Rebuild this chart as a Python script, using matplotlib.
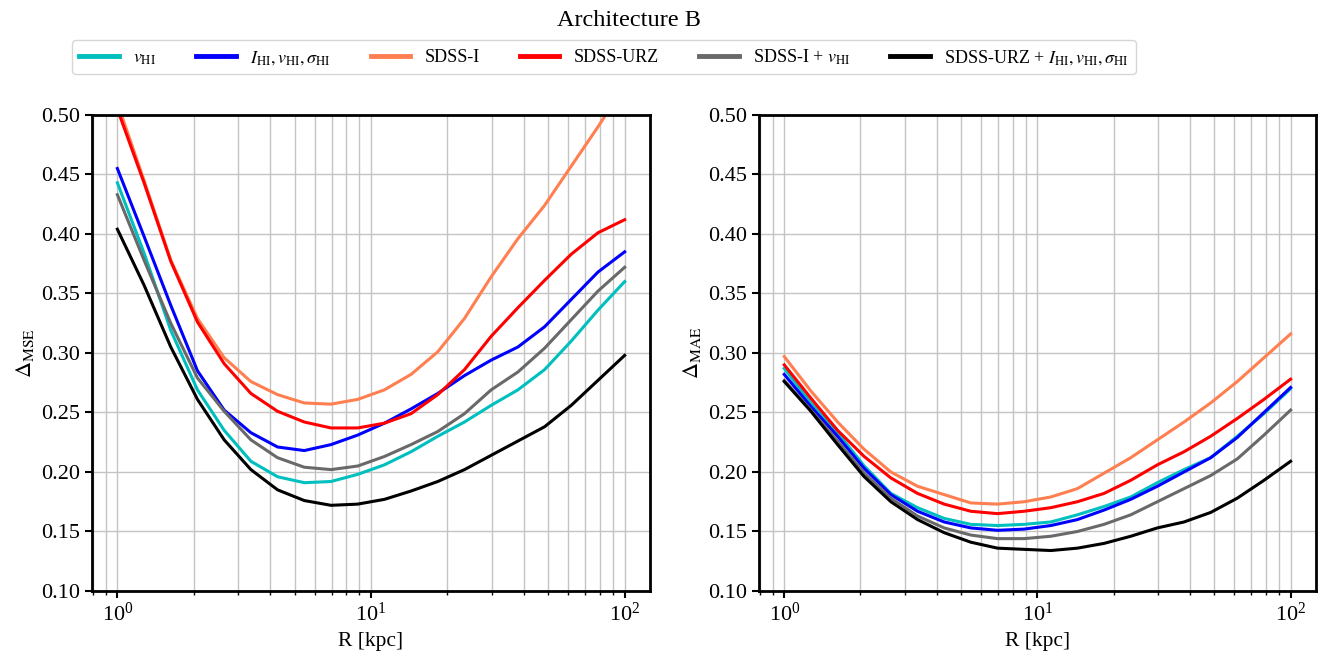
import numpy as np
import matplotlib
matplotlib.use('Agg')
import matplotlib.pyplot as plt

plt.rcParams['font.family'] = 'serif'
plt.rcParams['font.serif'] = ['Liberation Serif', 'DejaVu Serif']
plt.rcParams['mathtext.fontset'] = 'stix'

# radius grid [kpc], 20 log-spaced points between 1 and 100
R = [1.0, 1.274, 1.624, 2.069, 2.637, 3.360, 4.281, 5.456, 6.952, 8.859,
     11.29, 14.38, 18.33, 23.36, 29.76, 37.93, 48.33, 61.58, 78.48, 100.0]

labels = [r'$v_{\rm HI}$', r'$I_{\rm HI}, v_{\rm HI}, \sigma_{\rm HI}$', 'SDSS-I',
          'SDSS-URZ', r'SDSS-I + $v_{\rm HI}$',
          r'SDSS-URZ + $I_{\rm HI}, v_{\rm HI}, \sigma_{\rm HI}$']
colors = ['c', 'b', 'coral', 'r', 'dimgray', 'k']

# Delta_MSE (left panel)
mse_v = [0.443, 0.384, 0.319, 0.269, 0.235, 0.209, 0.196, 0.191, 0.192, 0.198,
         0.206, 0.217, 0.230, 0.242, 0.256, 0.269, 0.286, 0.310, 0.336, 0.360]
mse_ivs = [0.455, 0.398, 0.340, 0.285, 0.252, 0.233, 0.221, 0.218, 0.223, 0.231,
           0.241, 0.253, 0.266, 0.281, 0.294, 0.305, 0.322, 0.345, 0.368, 0.385]
mse_sdssi = [0.510, 0.445, 0.378, 0.329, 0.296, 0.276, 0.265, 0.258, 0.257, 0.261,
             0.269, 0.282, 0.301, 0.329, 0.364, 0.396, 0.424, 0.457, 0.490, 0.525]
mse_urz = [0.505, 0.443, 0.377, 0.326, 0.291, 0.266, 0.251, 0.242, 0.237, 0.237,
           0.241, 0.249, 0.265, 0.286, 0.314, 0.338, 0.361, 0.383, 0.401, 0.412]
mse_sdssi_v = [0.433, 0.378, 0.325, 0.279, 0.251, 0.227, 0.212, 0.204, 0.202, 0.205,
               0.213, 0.223, 0.234, 0.249, 0.269, 0.284, 0.304, 0.328, 0.352, 0.372]
mse_all = [0.404, 0.357, 0.305, 0.261, 0.227, 0.202, 0.185, 0.176, 0.172, 0.173,
           0.177, 0.184, 0.192, 0.202, 0.214, 0.226, 0.238, 0.256, 0.277, 0.298]

# Delta_MAE (right panel)
mae_v = [0.287, 0.258, 0.233, 0.205, 0.182, 0.170, 0.161, 0.156, 0.155, 0.156,
         0.158, 0.164, 0.171, 0.179, 0.191, 0.202, 0.212, 0.230, 0.249, 0.270]
mae_ivs = [0.282, 0.255, 0.230, 0.203, 0.181, 0.167, 0.158, 0.153, 0.151, 0.152,
           0.155, 0.160, 0.168, 0.177, 0.188, 0.200, 0.212, 0.229, 0.250, 0.271]
mae_sdssi = [0.297, 0.268, 0.242, 0.219, 0.200, 0.188, 0.181, 0.174, 0.173, 0.175,
             0.179, 0.186, 0.199, 0.212, 0.227, 0.242, 0.258, 0.276, 0.296, 0.316]
mae_urz = [0.290, 0.262, 0.235, 0.213, 0.195, 0.182, 0.173, 0.167, 0.165, 0.167,
           0.170, 0.175, 0.182, 0.193, 0.206, 0.217, 0.230, 0.245, 0.261, 0.278]
mae_sdssi_v = [0.277, 0.252, 0.226, 0.199, 0.178, 0.163, 0.153, 0.147, 0.144, 0.144,
               0.146, 0.150, 0.156, 0.164, 0.175, 0.186, 0.197, 0.211, 0.231, 0.252]
mae_all = [0.276, 0.251, 0.223, 0.196, 0.175, 0.160, 0.149, 0.141, 0.136, 0.135,
           0.134, 0.136, 0.140, 0.146, 0.153, 0.158, 0.166, 0.178, 0.193, 0.209]

mse = [mse_v, mse_ivs, mse_sdssi, mse_urz, mse_sdssi_v, mse_all]
mae = [mae_v, mae_ivs, mae_sdssi, mae_urz, mae_sdssi_v, mae_all]


def plot_panel(ax, series, ylabel):
    for y, c, lab in zip(series, colors, labels):
        ax.plot(R, y, color=c, lw=2.2, label=lab)
    ax.set_xscale('log')
    ax.set_ylim(0.1, 0.5)
    ax.set_yticks(np.arange(0.1, 0.51, 0.05))
    ax.set_yticklabels(['%.2f' % v for v in np.arange(0.1, 0.51, 0.05)])
    ax.set_xlabel('R [kpc]', fontsize=15.5)
    ax.set_ylabel(ylabel, fontsize=16)
    ax.tick_params(labelsize=16, width=1.5, length=5)
    ax.tick_params(which='minor', width=1.0, length=3)
    ax.grid(visible=True, which='both', color='#c4c4c4', lw=1.0)
    for sp in ax.spines.values():
        sp.set_linewidth(2)


fig = plt.figure(figsize=(13.22, 6.63), dpi=100)
ax1 = fig.add_axes([0.0696, 0.1086, 0.4221, 0.718])
ax2 = fig.add_axes([0.5741, 0.1086, 0.4213, 0.718])
plot_panel(ax1, mse, r'$\Delta_{\rm MSE}$')
plot_panel(ax2, mae, r'$\Delta_{\rm MAE}$')

handles, labs = ax1.get_legend_handles_labels()
leg = fig.legend(handles, labs, loc='upper left', bbox_to_anchor=(72 / 1322, 1 - 40 / 663),
                 borderaxespad=0, ncol=6, fontsize=13, handlelength=2.2,
                 columnspacing=2.2, frameon=True)
for h in leg.get_lines():
    h.set_linewidth(3.5)
fig.suptitle('Architecture B', fontsize=17.5, y=0.985, x=0.476)

fig.savefig('out.png', dpi=100)
